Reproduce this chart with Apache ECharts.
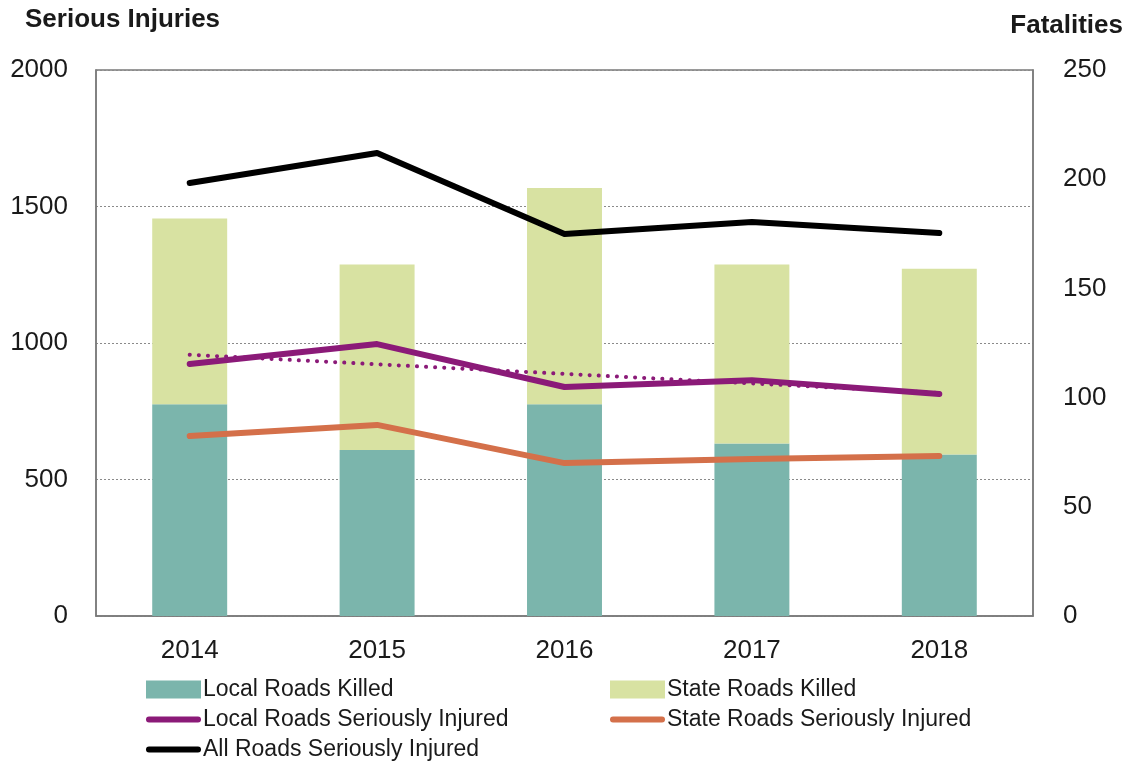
<!DOCTYPE html>
<html>
<head>
<meta charset="utf-8">
<script src="https://cdn.jsdelivr.net/npm/echarts@6/dist/echarts.min.js"></script>
<style>
  html, body { margin: 0; padding: 0; background: #fff; }
  #chart { width: 1130px; height: 762px; }
</style>
</head>
<body>
<div id="chart"></div>
<script>
// 데이터
const years = ['2014', '2015', '2016', '2017', '2018']
const localKilled = [97, 76, 97, 79, 74]        // Fatalities (right axis)
const stateKilled = [85, 85, 99, 82, 85]
const localInjured = [923, 996, 839, 864, 813]  // Serious Injuries (left axis)
const stateInjured = [659, 700, 560, 575, 586]
const allInjured = [1586, 1696, 1399, 1443, 1403]
const localTrend = [957, 922, 887, 852, 817]    // dotted trend line

const COLORS = {
  localKilled: '#7BB5AC',
  stateKilled: '#D8E2A2',
  localInjured: '#8B1A78',
  stateInjured: '#D4704A',
  allInjured: '#000000',
}

const FONT = 'Liberation Sans, Arial, sans-serif'
const TEXT = '#1a1a1a'

// 범례 아이콘: 막대는 사각형, 선은 얇은 둥근 막대 (M0,0 M55,18 로 크기 고정)
const BAR_ICON = 'rect'
const LINE_ICON = 'path://M0,0M55,18M3,6L52,6A3,3,0,0,1,52,12L3,12A3,3,0,0,1,3,6Z'

const chart = echarts.init(document.getElementById('chart'))

const lineSeries = (name, data, color) => ({
  name: name,
  type: 'line',
  yAxisIndex: 0,
  data: data,
  symbol: 'none',
  lineStyle: { width: 6, color: color, cap: 'round', join: 'round' },
  itemStyle: { color: color },
  z: 5,
})

// 범례 항목 하나씩 배치 (2열 x 3행)
const legendItem = (name, icon, left, top) => ({
  left: left,
  top: top,
  padding: 0,
  itemWidth: 55,
  itemHeight: 18,
  itemStyle: { borderWidth: 0 },
  lineStyle: { width: 0 },
  textStyle: { fontFamily: FONT, fontSize: 23, color: TEXT, padding: [0, 0, 0, -3] },
  data: [{ name: name, icon: icon }],
})

const option = {
  animation: false,
  textStyle: { fontFamily: FONT },
  title: [
    {
      text: 'Serious Injuries',
      left: 25,
      top: 7,
      padding: 0,
      textStyle: { fontFamily: FONT, fontSize: 26, fontWeight: 'bold', color: TEXT },
    },
    {
      text: 'Fatalities',
      right: 7,
      top: 13,
      padding: 0,
      textStyle: { fontFamily: FONT, fontSize: 26, fontWeight: 'bold', color: TEXT },
    },
  ],
  grid: {
    left: 96,
    right: 97,
    top: 70,
    bottom: 146,
    show: true,
    borderColor: '#7a7a7a',
    borderWidth: 1.5,
  },
  legend: [
    legendItem('Local Roads Killed', BAR_ICON, 146, 678),
    legendItem('State Roads Killed', BAR_ICON, 610, 678),
    legendItem('Local Roads Seriously Injured', LINE_ICON, 146, 708),
    legendItem('State Roads Seriously Injured', LINE_ICON, 610, 708),
    legendItem('All Roads Seriously Injured', LINE_ICON, 146, 738),
  ],
  xAxis: {
    type: 'category',
    data: years,
    axisLine: { lineStyle: { color: '#7a7a7a', width: 1.5 } },
    axisTick: { show: false },
    axisLabel: { color: TEXT, fontSize: 26, fontFamily: FONT, margin: 22 },
  },
  yAxis: [
    {
      type: 'value',
      min: 0,
      max: 2000,
      interval: 500,
      axisLine: { show: true, lineStyle: { color: '#7a7a7a', width: 1.5 } },
      axisTick: { show: false },
      axisLabel: { color: TEXT, fontSize: 26, fontFamily: FONT, margin: 28, formatter: v => String(v) },
      splitLine: { lineStyle: { color: '#8a8a8a', type: [2, 2], width: 1 } },
    },
    {
      type: 'value',
      min: 0,
      max: 250,
      interval: 50,
      position: 'right',
      axisLine: { show: true, lineStyle: { color: '#7a7a7a', width: 1.5 } },
      axisTick: { show: false },
      axisLabel: { color: TEXT, fontSize: 26, fontFamily: FONT, margin: 30, formatter: v => String(v) },
      splitLine: { show: false },
    },
  ],
  series: [
    {
      name: 'Local Roads Killed',
      type: 'bar',
      yAxisIndex: 1,
      stack: 'killed',
      barWidth: '40%',
      data: localKilled,
      itemStyle: { color: COLORS.localKilled },
    },
    {
      name: 'State Roads Killed',
      type: 'bar',
      yAxisIndex: 1,
      stack: 'killed',
      barWidth: '40%',
      data: stateKilled,
      itemStyle: { color: COLORS.stateKilled },
    },
    {
      name: 'Local Roads Trend',
      type: 'line',
      yAxisIndex: 0,
      data: localTrend,
      symbol: 'none',
      lineStyle: { width: 4, color: COLORS.localInjured, type: [0.1, 9], cap: 'round' },
      z: 4,
    },
    lineSeries('Local Roads Seriously Injured', localInjured, COLORS.localInjured),
    lineSeries('State Roads Seriously Injured', stateInjured, COLORS.stateInjured),
    lineSeries('All Roads Seriously Injured', allInjured, COLORS.allInjured),
  ],
}

chart.setOption(option)
</script>
</body>
</html>
